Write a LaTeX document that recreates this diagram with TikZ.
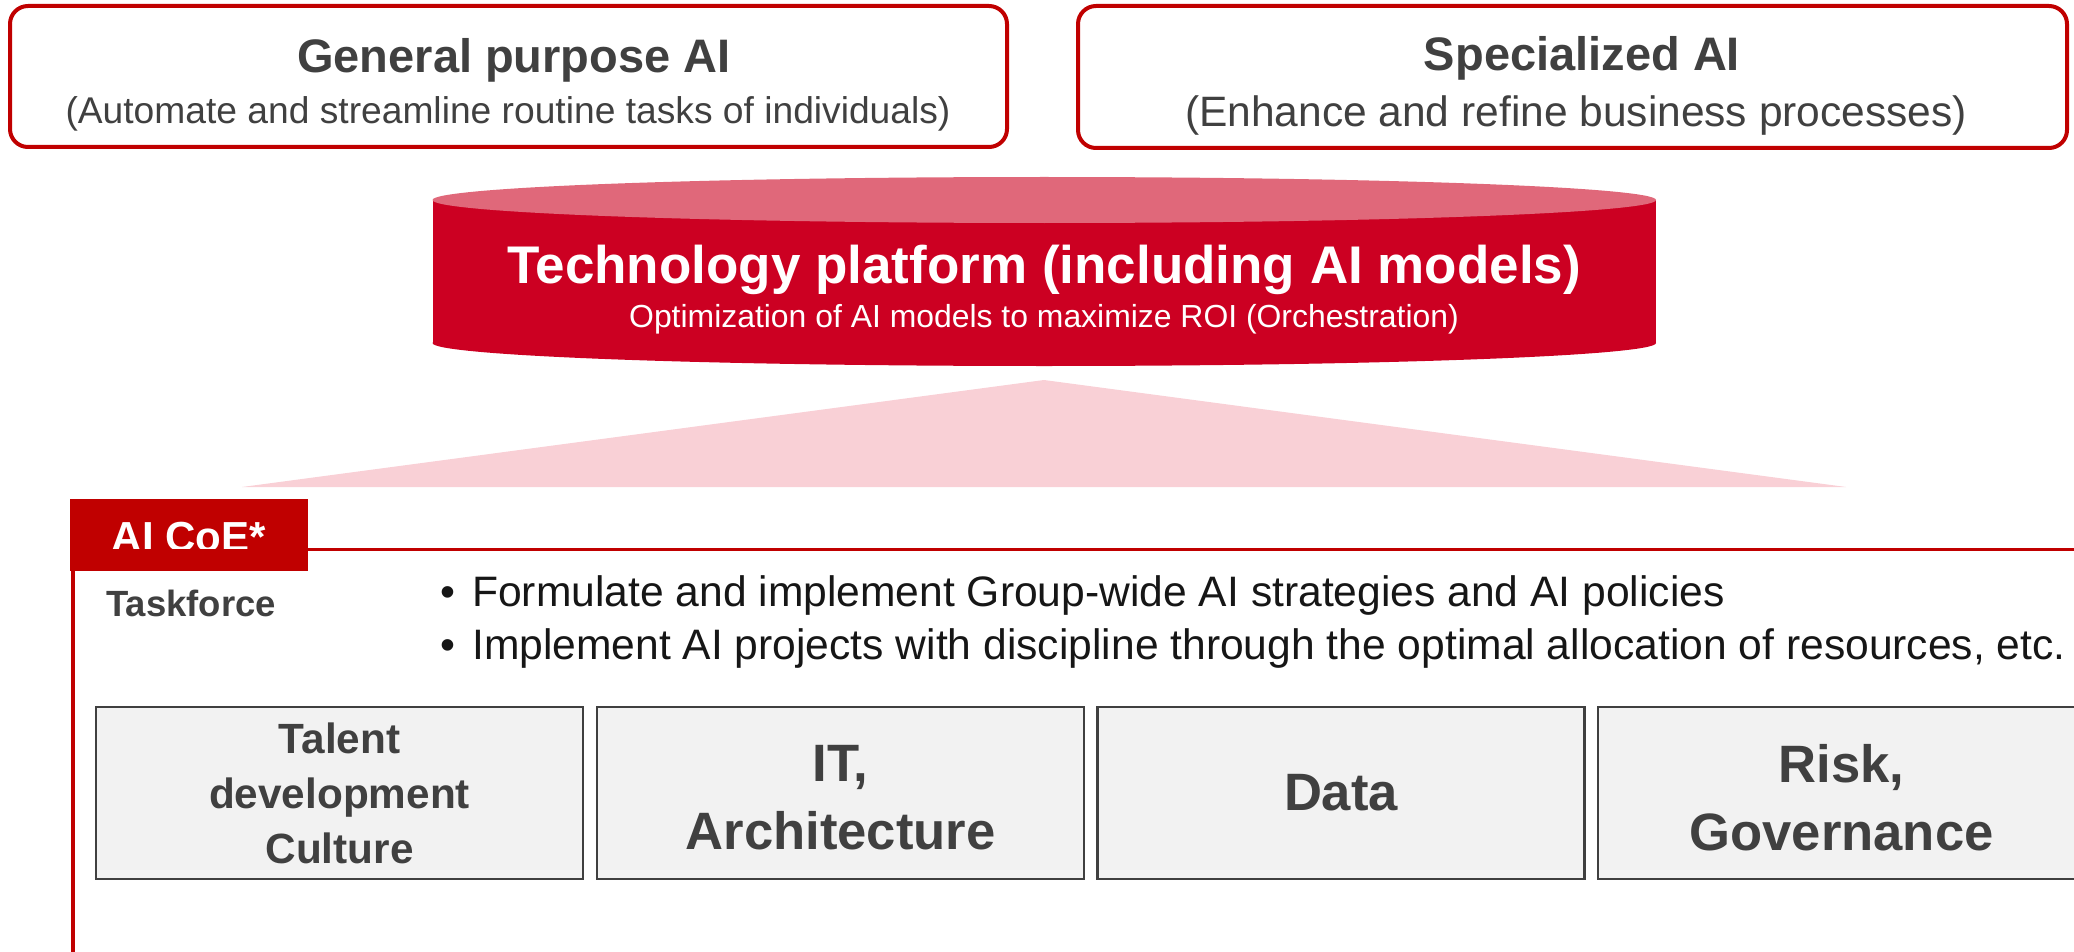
\documentclass[tikz,border=0pt]{standalone}
\usepackage{fontspec}
\setmainfont{Liberation Sans}
\definecolor{frame}{HTML}{C00000}
\definecolor{cylbody}{HTML}{CC0022}
\definecolor{cyltop}{HTML}{E0687A}
\definecolor{tri}{HTML}{F9D0D6}
\definecolor{cellfill}{HTML}{F2F2F2}
\definecolor{darktxt}{HTML}{404040}
\definecolor{bodytxt}{HTML}{161616}
\newcommand{\fsz}[2]{\fontsize{#1}{#2}\selectfont}
\begin{document}
\begin{tikzpicture}[x=1pt,y=-1pt,
  topbox/.style={draw=frame, line width=4pt, rounded corners=18pt, fill=white, inner sep=0pt},
  toptitle/.style={anchor=base, inner sep=0pt, text=darktxt, font=\bfseries\fsz{47}{56}},
  topsub/.style={anchor=base, inner sep=0pt, text=darktxt},
  cell/.style={draw=darktxt, line width=2.5pt, fill=cellfill, minimum width=487pt, minimum height=172pt, align=center, text=darktxt, inner sep=0pt},
  celltxt/.style={font=\bfseries\fsz{52.6}{68}},
  bullet/.style={anchor=base west, inner sep=0pt, text=bodytxt, font=\fsz{42.6}{53}},
  redline/.style={draw=frame, line width=3.2pt}
]
\useasboundingbox (0,0) rectangle (2074,952);

% top boxes
\node[topbox, minimum width=997pt, minimum height=141pt] (gp) at (508.5,76.5) {};
\node[toptitle] (gpT) at (514,72.5) {General purpose AI};
\node[topsub, font=\fsz{37.2}{44}] (gpS) at (508,124) {(Automate and streamline routine tasks of individuals)};

\node[topbox, minimum width=989pt, minimum height=142pt] (sp) at (1572.5,77) {};
\node[toptitle] (spT) at (1582,71) {Specialized AI};
\node[topsub, font=\fsz{42.5}{50}] (spS) at (1576,127) {(Enhance and refine business processes)};

% cylinder
\fill[cylbody] (432.5,200) rectangle (1656,343);
\fill[cylbody] (1044.25,343) ellipse [x radius=611.75, y radius=23];
\fill[cyltop] (1044.25,200) ellipse [x radius=611.75, y radius=23];
\node[anchor=base, inner sep=0pt, text=white, font=\bfseries\fsz{53}{62}] (tpT) at (1044,283) {Technology platform (including AI models)};
\node[anchor=base, inner sep=0pt, text=white, font=\fsz{31.9}{38}] (tpS) at (1044,327) {Optimization of AI models to maximize ROI (Orchestration)};

% triangle
\fill[tri] (1044,380) -- (242,487) -- (1846,487) -- cycle;

% AI CoE frame
\node[fill=frame, minimum width=238pt, minimum height=72pt, inner sep=0pt] (coe) at (189,535) {};
\begin{scope}
  \clip (70,499) rectangle (308,548);
  \node[anchor=base west, inner sep=0pt, text=white, font=\bfseries\fsz{42}{50}] (coeT) at (111.6,551) {AI CoE*};
\end{scope}
\draw[redline] (coe.east |- 0,549.5) -- (2074,549.5);
\draw[redline] (73,571) -- (73,952);

\node[anchor=base west, inner sep=0pt, text=darktxt, font=\bfseries\fsz{36.5}{44}] (tf) at (106,616) {Taskforce};

\node[bullet] (b1) at (440,606) {\makebox[32pt][l]{•}Formulate and implement Group-wide AI strategies and AI policies};
\node[bullet] (b2) at (440,659) {\makebox[32pt][l]{•}Implement AI projects with discipline through the optimal allocation of resources, etc.};

% cells
\node[cell, font=\bfseries\fsz{42.3}{55}] (c1) at (339.5,793) {Talent\\development\\Culture};
\node[cell, celltxt] (c2) at (840.5,793) {};
\node[celltxt, align=center, text=darktxt, inner sep=0pt] (c2t) at (840.5,798) {IT,\\Architecture};
\node[cell, celltxt] (c3) at (1341,793) {Data};
\node[cell, celltxt] (c4) at (1841.5,793) {};
\node[celltxt, align=center, text=darktxt, inner sep=0pt] (c4t) at (1841.5,798) {Risk,\\Governance};
\end{tikzpicture}
\end{document}
